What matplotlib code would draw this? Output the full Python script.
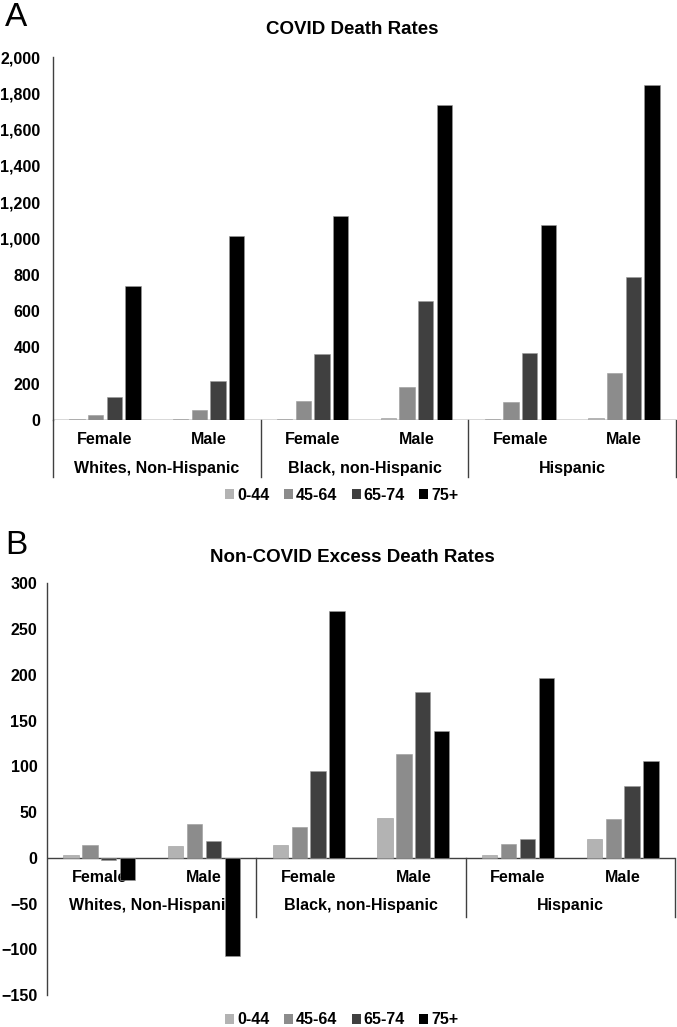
import matplotlib
matplotlib.use("Agg")
import matplotlib.pyplot as plt
from matplotlib.patches import Patch
from matplotlib.lines import Line2D
from matplotlib.ticker import FuncFormatter
import numpy as np

plt.rcParams['font.family'] = ['Liberation Sans', 'DejaVu Sans']

age_groups = ['0-44', '45-64', '65-74', '75+']
colors = ['#b3b3b3', '#8c8c8c', '#404040', '#000000']
sexes = ['Female', 'Male', 'Female', 'Male', 'Female', 'Male']
races = ['Whites, Non-Hispanic', 'Black, non-Hispanic', 'Hispanic']

covid_0_44 = [7, 7, 7, 13, 7, 13]
covid_45_64 = [29, 53, 107, 180, 101, 261]
covid_65_74 = [125, 215, 365, 655, 369, 790]
covid_75p = [740, 1015, 1125, 1735, 1075, 1843]

excess_0_44 = [3.3, 12.4, 13.5, 43.4, 2.9, 20.4]
excess_45_64 = [13.5, 36.8, 33.5, 113.7, 14.6, 42.7]
excess_65_74 = [-2, 17.9, 94.8, 181.2, 20.4, 78]
excess_75p = [-24.4, -107.5, 269.4, 138.2, 196, 105.7]

covid = [covid_0_44, covid_45_64, covid_65_74, covid_75p]
excess = [excess_0_44, excess_45_64, excess_65_74, excess_75p]

W, H = 677, 1027
fig = plt.figure(figsize=(W / 100, H / 100), dpi=100)

def fx(px):
    return px / W

def fy(py):
    return 1 - py / H

axA = fig.add_axes([fx(53), fy(420), fx(676) - fx(53), fy(57) - fy(420)])
axB = fig.add_axes([fx(47), fy(995), fx(675) - fx(47), fy(583.3) - fy(995)])

x = np.arange(len(sexes))
pitch = 0.18
bw = 0.147
offsets = (np.arange(4) - 1.5) * pitch

axis_col = '#404040'
lab_font = dict(fontsize=11.5, fontweight='bold')

def draw(ax, series):
    for k, vals in enumerate(series):
        ax.bar(x + offsets[k], vals, width=bw, color=colors[k],
               edgecolor='#9a9a9a', linewidth=0.4, zorder=3)
    ax.set_xlim(-0.5, 5.5)
    ax.set_xticks([])
    for s in ['top', 'right', 'bottom']:
        ax.spines[s].set_visible(False)
    ax.spines['left'].set_color(axis_col)
    ax.spines['left'].set_linewidth(1.0)
    ax.tick_params(axis='y', length=0, labelsize=11.5)
    ax.axhline(0, color=axis_col, linewidth=1.0, zorder=2)

# Panel A
draw(axA, covid)
axA.set_ylim(0, 2000)
axA.set_yticks(range(0, 2001, 200))
axA.yaxis.set_major_formatter(FuncFormatter(lambda v, p: f'{int(v):,}'))
axA.tick_params(axis='y', pad=9)
for t in axA.get_yticklabels():
    t.set_fontweight('bold')
trA = axA.get_xaxis_transform()
axh = 363.0
for i, s in enumerate(sexes):
    axA.text(i, -(440 - 420) / axh, s, transform=trA, ha='center', va='center',
             clip_on=False, zorder=1, **lab_font)
for j, r in enumerate(races):
    axA.text(2 * j + 0.5, -(468 - 420) / axh, r, transform=trA, ha='center',
             va='center', clip_on=False, zorder=1, **lab_font)
for xb in [-0.5, 1.5, 3.5, 5.5]:
    axA.add_line(Line2D([xb, xb], [0, -(477 - 420) / axh], transform=trA,
                        color=axis_col, linewidth=1.0, clip_on=False))

# Panel B
draw(axB, excess)
axB.set_ylim(-150, 300)
axB.set_yticks(range(-150, 301, 50))
axB.tick_params(axis='y', pad=7)
for t in axB.get_yticklabels():
    t.set_fontweight('bold')
upx = 300 / 274.4
for i, s in enumerate(sexes):
    axB.text(i, -(877 - 857.7) * upx, s, ha='center', va='center',
             zorder=1, **lab_font)
for j, r in enumerate(races):
    axB.text(2 * j + 0.5, -(905 - 857.7) * upx, r, ha='center', va='center',
             zorder=1, **lab_font)
for xb in [1.5, 3.5, 5.5]:
    axB.plot([xb, xb], [0, -(917 - 857.7) * upx], color=axis_col,
             linewidth=1.0, zorder=2, clip_on=False)

# Legends
handles = [Patch(facecolor=c, edgecolor='none') for c in colors]
for yy in [495, 1020]:
    fig.legend(handles, age_groups, loc='center', bbox_to_anchor=(fx(342), fy(yy)),
               ncol=4, frameon=False, handlelength=0.55, handleheight=0.55,
               handletextpad=0.2, columnspacing=0.9,
               prop=dict(size=11.5, weight='bold'))

# Titles and panel letters
fig.text(fx(352), fy(30), 'COVID Death Rates', ha='center', va='center',
         fontsize=13.5, fontweight='bold')
fig.text(fx(352), fy(557), 'Non-COVID Excess Death Rates', ha='center',
         va='center', fontsize=13.5, fontweight='bold')
fig.text(fx(5), fy(18), 'A', ha='left', va='center', fontsize=24)
fig.text(fx(5), fy(545), 'B', ha='left', va='center', fontsize=24)

fig.savefig('out.png', dpi=100, facecolor='white')
